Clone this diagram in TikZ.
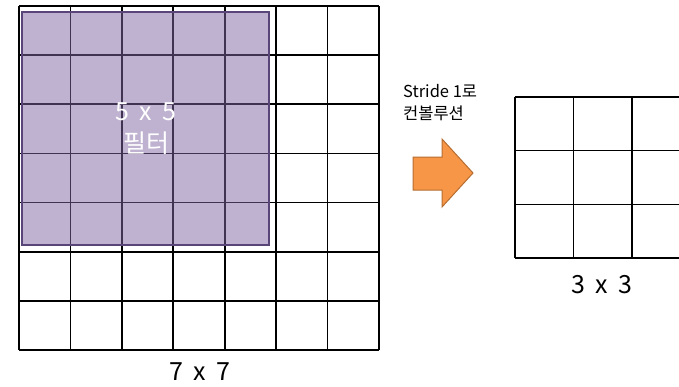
\documentclass[tikz,border=0pt]{standalone}
\usepackage{fontspec}
\setmainfont{Noto Sans CJK KR}
\definecolor{filterfill}{HTML}{8064A2}
\definecolor{filterline}{HTML}{5A4578}
\definecolor{arrowfill}{HTML}{F79646}
\definecolor{arrowline}{HTML}{B66D31}
\newcommand{\gapx}{\hspace{0.42em}}
\tikzset{
  gridline/.style={line width=1.6pt, black},
  bigtext/.style={font=\fontsize{25}{32}\selectfont, align=center, inner sep=0pt},
  smalltext/.style={font=\fontsize{16.5}{22}\selectfont, align=left, inner sep=0pt, anchor=north west},
}
\begin{document}
\begin{tikzpicture}[x=1pt,y=-1pt]
\useasboundingbox (0,0) rectangle (679,386);
\clip (0,0) rectangle (679,386);
% 7x7 grid
\foreach \i in {0,...,7} {
  \draw[gridline] ({19+\i*51.43},6) -- ({19+\i*51.43},350);
  \draw[gridline] (19,{6+\i*49.14}) -- (379,{6+\i*49.14});
}
% filter
\fill[filterfill, opacity=0.5] (22,12) rectangle (269,245);
\draw[filterline, line width=2.8pt] (22,12) rectangle (269,245);
\node[bigtext, text=white] (filt) at (146,129) {5\gapx x\gapx 5\\필터};
\node[bigtext] (in) at (200,372) {7\gapx x\gapx 7};
% arrow
\node[smalltext] (lab) at (403,84) {Stride 1로\\컨볼루션};
\filldraw[fill=arrowfill, draw=arrowline, line width=1pt]
  (413,157) -- (442,157) -- (442,139) -- (473,173) -- (442,207) -- (442,190) -- (413,190) -- cycle;
% 3x3 grid
\foreach \i in {0,...,3} {
  \draw[gridline] ({515+\i*58.5},97) -- ({515+\i*58.5},258);
}
\foreach \j in {0,...,3} {
  \draw[gridline] (515,{97+\j*53.67}) -- (700,{97+\j*53.67});
}
\node[bigtext] (out) at (602,285) {3\gapx x\gapx 3};
\end{tikzpicture}
\end{document}
